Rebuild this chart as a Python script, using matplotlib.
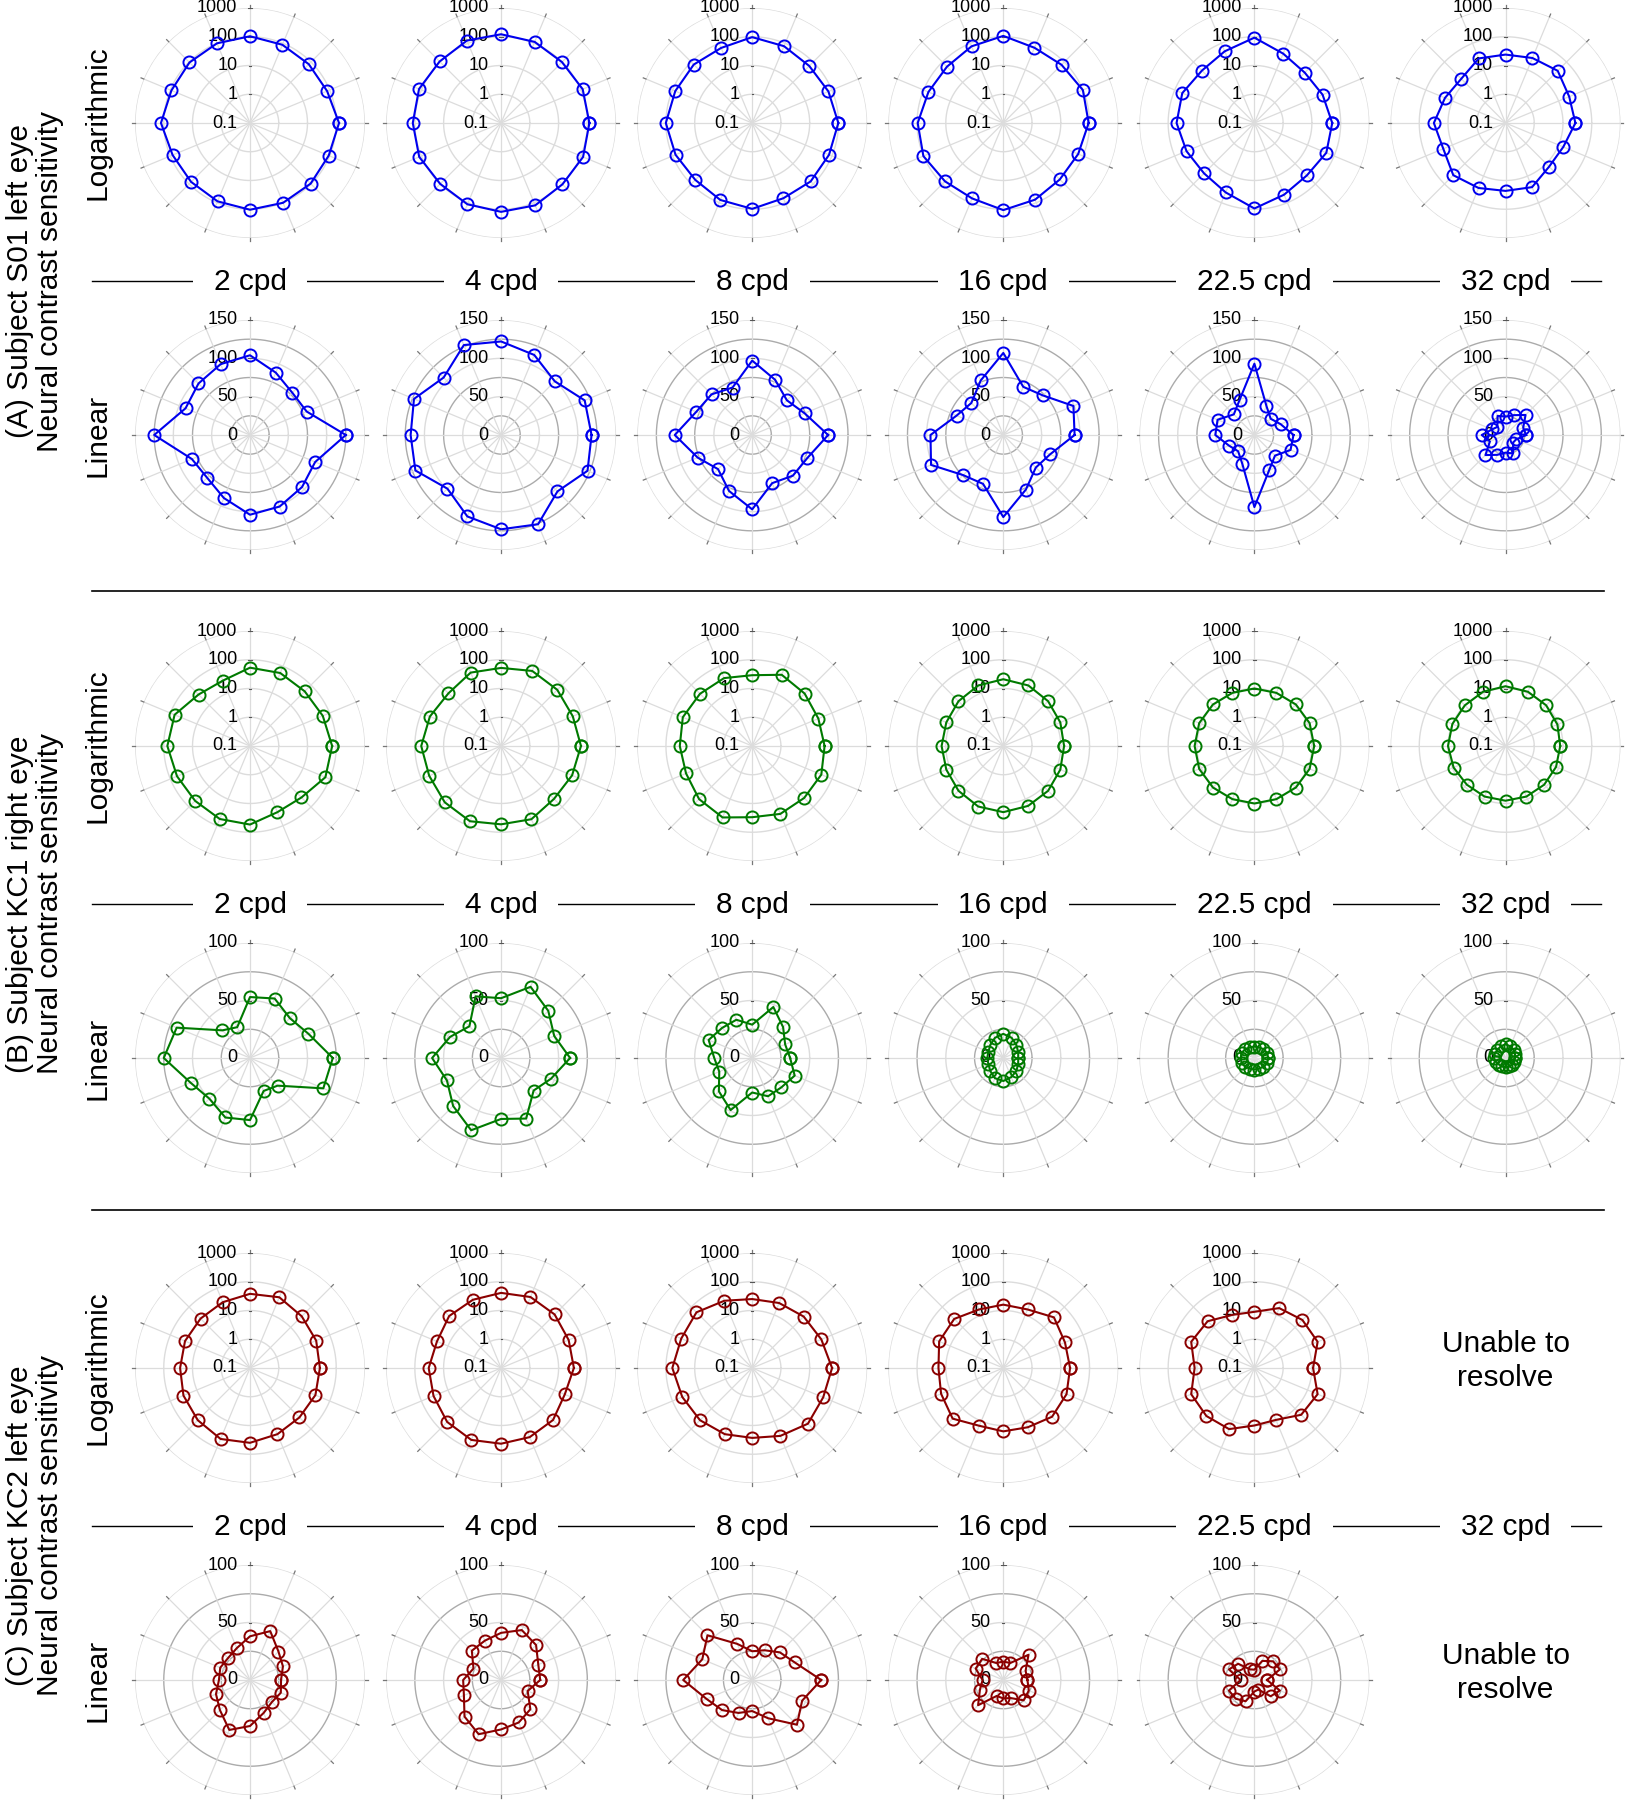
import numpy as np
import matplotlib.pyplot as plt
from matplotlib.lines import Line2D

plt.rcParams['font.family'] = ['Liberation Sans', 'DejaVu Sans']

W, H = 1625, 1800
fig = plt.figure(figsize=(W / 100, H / 100), dpi=100)

# ---------------------------------------------------------------
# data: neural contrast sensitivity at 16 orientations (0..337.5 deg)
angles_deg = np.arange(0, 360, 22.5)
freq_labels = ['2 cpd', '4 cpd', '8 cpd', '16 cpd', '22.5 cpd', '32 cpd']

s01_2 = [125, 80, 78, 88, 104, 100, 95, 91, 125, 82, 79, 89, 104, 101, 96, 92]
s01_4 = [118, 118, 99, 113, 122, 127, 106, 123, 118, 121, 99, 115, 123, 126, 104, 122]
s01_8 = [99, 74, 64, 78, 97, 67, 75, 79, 101, 77, 63, 79, 97, 68, 75, 78]
s01_16 = [93, 99, 73, 68, 107, 77, 59, 66, 95, 102, 74, 69, 107, 77, 60, 66]
s01_22 = [51, 37, 30, 41, 93, 50, 38, 52, 51, 36, 30, 41, 94, 50, 38, 51]
s01_32 = [27, 25, 37, 28, 24, 27, 15, 19, 31, 22, 37, 28, 23, 26, 14, 15]

kc1_2 = [72, 55, 49, 56, 53, 29, 34, 69, 75, 56, 50, 56, 54, 31, 34, 69]
kc1_4 = [60, 50, 58, 67, 52, 58, 39, 48, 60, 51, 59, 68, 53, 57, 40, 47]
kc1_8 = [33, 31, 38, 48, 29, 36, 37, 41, 33, 31, 41, 49, 30, 36, 36, 40]
kc1_16 = [13, 14, 16, 19, 21, 19, 16, 14, 14, 14, 16, 19, 20, 18, 16, 14]
kc1_22 = [12, 12, 11, 10, 10, 10, 11, 12, 12, 12, 11, 10, 10, 10, 11, 12]
kc1_32 = [8, 9, 10, 11, 12, 11, 10, 10, 10, 9, 8, 8, 8, 8, 8, 8]

kc2_2 = [27, 31, 35, 46, 38, 30, 27, 28, 27, 32, 37, 47, 40, 31, 27, 29]
kc2_4 = [34, 35, 43, 47, 41, 37, 36, 26, 33, 35, 45, 51, 43, 40, 36, 25]
kc2_8 = [60, 40, 34, 28, 25, 34, 55, 47, 60, 43, 37, 31, 27, 36, 55, 47]
kc2_16 = [21, 21, 31, 16, 16, 16, 26, 26, 18, 22, 31, 15, 16, 17, 25, 24]
kc2_22 = [11, 24, 23, 18, 9, 10, 20, 24, 12, 24, 23, 20, 10, 9, 20, 24]

subjects = [
    ("(A) Subject S01 left eye", '#0000ee', 150,
     [s01_2, s01_4, s01_8, s01_16, s01_22, s01_32]),
    ("(B) Subject KC1 right eye", '#007a00', 100,
     [kc1_2, kc1_4, kc1_8, kc1_16, kc1_22, kc1_32]),
    ("(C) Subject KC2 left eye", '#8b0000', 100,
     [kc2_2, kc2_4, kc2_8, kc2_16, kc2_22, None]),
]

# ---------------------------------------------------------------
# layout (pixels)
col_x = [250 + 251.1 * i for i in range(6)]
panel_y0 = [123, 746, 1368]
lin_dy = 312
R = 115
FS = 21.5
LIGHT = '#dcdcdc'
DARK = '#ababab'


def polar_plot(cx, cy, vals, color, mode, rmax_lin):
    ax = fig.add_axes([(cx - R) / W, 1 - (cy + R) / H, 2 * R / W, 2 * R / H],
                      projection='polar')
    ax.set_axis_off()
    ax.patch.set_visible(False)
    ax.set_zorder(6)   # keep radial labels above the white boxes of the cpd row
    th = np.deg2rad(angles_deg)
    full = np.linspace(0, 2 * np.pi, 361)
    if mode == 'log':
        rmax = 4
        rings = [(1, LIGHT), (2, LIGHT), (3, LIGHT), (4, LIGHT)]
        labels = [(0, '0.1'), (1, '1'), (2, '10'), (3, '100'), (4, '1000')]
    else:
        rmax = rmax_lin
        rings = [(v, DARK if (v // 25) % 2 == 1 else LIGHT)
                 for v in range(25, rmax + 1, 25)]
        labels = [(v, str(v)) for v in range(0, rmax + 1, 50)]
    ax.set_ylim(0, rmax)
    for r, c in rings:
        ax.plot(full, np.full_like(full, r), color=c, lw=1.0, zorder=1)
    for t in th:
        ax.plot([t, t], [0, rmax], color=LIGHT, lw=0.9, zorder=1)
        ax.plot([t, t], [rmax, rmax * 1.025], color='#777777', lw=0.9,
                zorder=1, clip_on=False)
    for r, txt in labels:
        if r > 0:
            ax.plot([np.pi / 2 - 0.02, np.pi / 2 + 0.02], [r, r],
                    color='#555555', lw=0.8, zorder=1)
        ax.annotate(txt, xy=(np.pi / 2, r), xytext=(-9, 0),
                    textcoords='offset points', ha='right', va='center',
                    fontsize=13, color='black', zorder=2)
    if vals is not None:
        v = np.array(list(vals) + [vals[0]], dtype=float)
        t = np.append(th, th[0])
        r = np.log10(v) + 1 if mode == 'log' else v
        ax.plot(t, r, color=color, lw=1.5, marker='o', markersize=8.7,
                markerfacecolor='none', markeredgewidth=1.4, zorder=3,
                clip_on=False)
    return ax


for p, (name, color, rmax_lin, data) in enumerate(subjects):
    y_log = panel_y0[p]
    y_lin = y_log + lin_dy
    y_mid = (y_log + y_lin) / 2 + 2
    for i in range(6):
        if data[i] is None:
            for yy in (y_log, y_lin):
                fig.text(col_x[i] / W, 1 - (yy - 7) / H, 'Unable to\nresolve',
                         ha='center', va='center', fontsize=FS,
                         linespacing=1.3)
            continue
        polar_plot(col_x[i], y_log, data[i], color, 'log', rmax_lin)
        polar_plot(col_x[i], y_lin, data[i], color, 'lin', rmax_lin)

    # frequency row with horizontal rule
    fig.add_artist(Line2D([92 / W, 1601 / W], [1 - y_mid / H] * 2,
                          color='black', lw=1.0, zorder=1))
    for i in range(6):
        fig.text(col_x[i] / W, 1 - (y_mid + 1) / H, freq_labels[i],
                 ha='center', va='center', fontsize=FS, zorder=5,
                 bbox=dict(boxstyle='square,pad=0.7', facecolor='white',
                           edgecolor='none'))

    fig.text(97 / W, 1 - y_log / H, 'Logarithmic', rotation=90, ha='center',
             va='center', fontsize=FS)
    fig.text(97 / W, 1 - y_lin / H, 'Linear', rotation=90, ha='center',
             va='center', fontsize=FS)
    fig.text(35 / W, 1 - y_mid / H, name + '\nNeural contrast sensitivity',
             rotation=90, ha='center', va='center', fontsize=FS,
             linespacing=1.05, multialignment='center')

# panel separators
for yy in (591, 1210):
    fig.add_artist(Line2D([92 / W, 1604 / W], [1 - yy / H] * 2,
                          color='black', lw=1.2))

fig.savefig('out.png', dpi=100, facecolor='white')
